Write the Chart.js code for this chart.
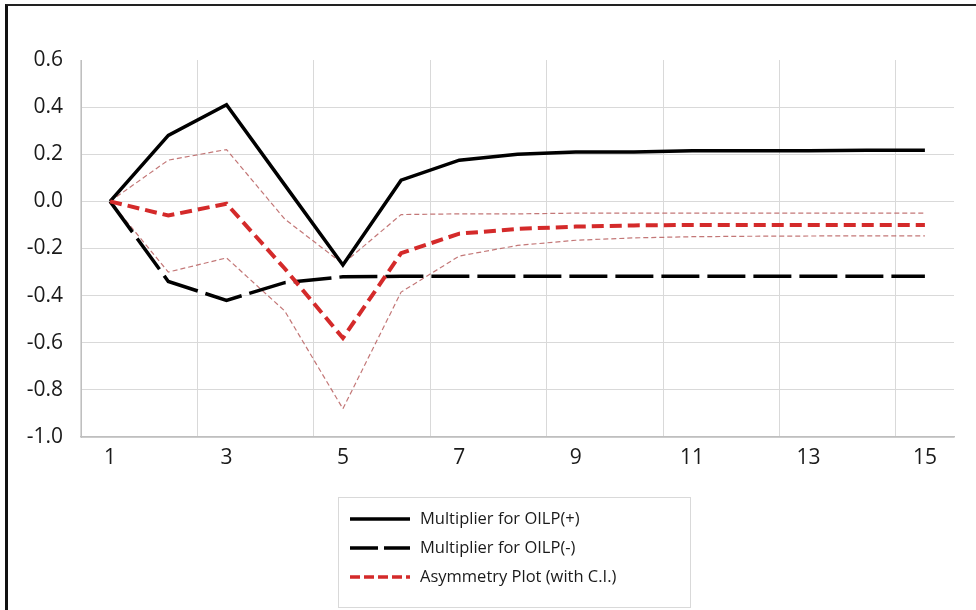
<!DOCTYPE html>
<html>
<head>
<meta charset="utf-8">
<script src="https://cdn.jsdelivr.net/npm/chart.js@4.4.1/dist/chart.umd.min.js"></script>
<style>
  html, body { margin: 0; padding: 0; background: #fff; }
  #wrap { position: relative; width: 976px; height: 610px; }
  #frame { position: absolute; left: 5px; top: 4px; width: 1000px; height: 700px;
           border-left: 3px solid #111; border-top: 2px solid #222; pointer-events: none; }
</style>
</head>
<body>
<div id="wrap">
  <canvas id="chart" width="976" height="610"></canvas>
  <div id="frame"></div>
</div>
<script>
// horizon (periods)
const periods = ['1','2','3','4','5','6','7','8','9','10','11','12','13','14','15'];

// cumulative dynamic multipliers
const multPos = [0, 0.28, 0.41, 0.07, -0.27, 0.09, 0.175, 0.20, 0.21, 0.21, 0.215, 0.215, 0.215, 0.217, 0.217];
const multNeg = [0, -0.34, -0.42, -0.345, -0.32, -0.318, -0.318, -0.318, -0.318, -0.318, -0.318, -0.318, -0.318, -0.318, -0.318];
const asym    = [0, -0.06, -0.01, -0.285, -0.58, -0.22, -0.137, -0.117, -0.107, -0.102, -0.10, -0.10, -0.10, -0.10, -0.10];
const ciUpper = [0, 0.175, 0.22, -0.075, -0.265, -0.056, -0.053, -0.053, -0.05, -0.05, -0.05, -0.05, -0.05, -0.05, -0.05];
const ciLower = [0, -0.30, -0.24, -0.465, -0.88, -0.385, -0.232, -0.187, -0.165, -0.155, -0.15, -0.148, -0.147, -0.146, -0.146];

const yTicks = [0.6, 0.4, 0.2, 0.0, -0.2, -0.4, -0.6, -0.8, -1.0];

const legendItems = [
    { text: 'Multiplier for OILP(+)', color: '#000', width: 3.5, dash: [] },
    { text: 'Multiplier for OILP(-)', color: '#000', width: 3.5, dash: [28, 6] },
    { text: 'Asymmetry Plot (with C.I.)', color: '#d42a2a', width: 3.5, dash: [10, 4] }
];

// boxed legend below the plot, Excel style
const boxLegend = {
    id: 'boxLegend',
    afterDraw(chart) {
        const ctx = chart.ctx;
        const x0 = 338, y0 = 497, w = 352, h = 110;
        ctx.save();
        ctx.strokeStyle = '#d9d9d9';
        ctx.lineWidth = 1;
        ctx.strokeRect(x0 + 0.5, y0 + 0.5, w, h);
        ctx.font = '16.5px "Open Sans"';
        ctx.textBaseline = 'middle';
        legendItems.forEach((it, i) => {
            const y = 519 + i * 29;
            ctx.beginPath();
            ctx.setLineDash(it.dash);
            ctx.lineWidth = it.width;
            ctx.strokeStyle = it.color;
            ctx.moveTo(350, y);
            ctx.lineTo(410, y);
            ctx.stroke();
            ctx.setLineDash([]);
            ctx.fillStyle = '#1a1a1a';
            ctx.fillText(it.text, 420, y);
        });
        ctx.restore();
    }
};

const ciStyle = { borderColor: 'rgba(185,95,95,0.85)', borderWidth: 1.2, borderDash: [5, 3] };

new Chart(document.getElementById('chart'), {
    type: 'line',
    data: {
        labels: periods,
        datasets: [
            { label: 'Asymmetry Plot (with C.I.)', data: asym, borderColor: '#d42a2a', borderWidth: 4, borderDash: [12, 6] },
            { label: 'Multiplier for OILP(+)', data: multPos, borderColor: '#000', borderWidth: 3.5 },
            { label: 'Multiplier for OILP(-)', data: multNeg, borderColor: '#000', borderWidth: 3.5, borderDash: [38, 8] },
            { label: 'Upper C.I.', data: ciUpper, ...ciStyle },
            { label: 'Lower C.I.', data: ciLower, ...ciStyle }
        ]
    },
    options: {
        responsive: false,
        animation: false,
        events: [],
        elements: { point: { radius: 0 }, line: { tension: 0, borderCapStyle: 'butt', borderJoinStyle: 'miter' } },
        layout: { padding: { top: 60, right: 22, bottom: 0, left: 0 } },
        plugins: { legend: { display: false }, tooltip: { enabled: false } },
        scales: {
            x: {
                offset: true,
                grid: {
                    offset: true,
                    drawTicks: false,
                    color: ctx => (ctx.index % 2 === 0 ? '#d9d9d9' : 'rgba(0,0,0,0)')
                },
                border: { color: '#bfbfbf', width: 1.5 },
                ticks: {
                    autoSkip: false,
                    maxRotation: 0,
                    padding: 8,
                    color: '#1a1a1a',
                    font: { family: '"Liberation Sans Narrow", "Open Sans"', size: 21 },
                    callback: (v, i) => (i % 2 === 0 ? periods[i] : '')
                },
                afterFit: s => { s.height = 173; }
            },
            y: {
                min: -1.0,
                max: 0.6,
                afterBuildTicks: s => { s.ticks = yTicks.map(v => ({ value: v })); },
                grid: {
                    drawTicks: false,
                    color: ctx => (ctx.tick && ctx.tick.value === 0.6 ? 'rgba(0,0,0,0)' : '#d9d9d9')
                },
                border: { color: '#bfbfbf', width: 1 },
                ticks: {
                    padding: 18,
                    color: '#1a1a1a',
                    font: { family: '"Open Sans"', size: 21 },
                    callback: v => v.toFixed(1)
                },
                afterFit: s => { s.width = 81; }
            }
        }
    },
    plugins: [boxLegend]
});
</script>
</body>
</html>
